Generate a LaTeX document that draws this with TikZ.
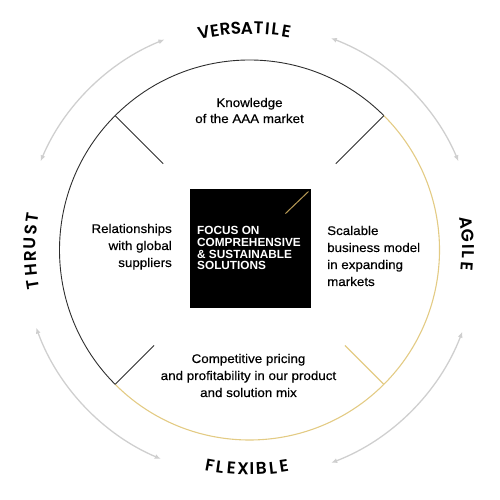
\documentclass[tikz,border=0pt]{standalone}
\usepackage{fontspec}
\setmainfont{Liberation Sans}[FakeStretch=1.07,FakeBold=0.4]
\newfontfamily\boxfont{Liberation Sans}
\newfontfamily\labfont{Poppins SemiBold}
\usetikzlibrary{arrows.meta,calc}
\definecolor{ringdark}{HTML}{2E2E2E}
\definecolor{ringgold}{HTML}{E3CB84}
\definecolor{arrowgray}{HTML}{CFCFCF}
\definecolor{boxgold}{HTML}{B89A55}
\tikzset{
  darkline/.style={draw=ringdark,line width=0.9pt},
  goldline/.style={draw=ringgold,line width=1.1pt},
  grayarrow/.style={draw=arrowgray,line width=1.3pt,{Latex[length=6pt,width=5pt]}-{Latex[length=6pt,width=5pt]}},
  bodytext/.style={font=\fontsize{12.5}{17}\selectfont,inner sep=0pt,text=black},
  lab/.style={font=\labfont\fontsize{17}{18}\selectfont,inner sep=0pt,text=black},
}
\begin{document}
\begin{tikzpicture}[x=1pt,y=1pt]
\useasboundingbox (0,0) rectangle (499,500);
\coordinate (C) at (249.5,250);
% ring
\draw[darkline] ($(C)+(45:190)$) arc[start angle=45,end angle=225,radius=190];
\draw[goldline] ($(C)+(225:190)$) arc[start angle=225,end angle=405,radius=190];
% ticks
\coordinate (t1a) at ($(C)+(135:122)$); \coordinate (t1b) at ($(C)+(135:190)$);
\coordinate (t2a) at ($(C)+(45:122)$);  \coordinate (t2b) at ($(C)+(45:190)$);
\coordinate (t3a) at ($(C)+(225:135)$); \coordinate (t3b) at ($(C)+(225:190)$);
\coordinate (t4a) at ($(C)+(315:135)$); \coordinate (t4b) at ($(C)+(315:190)$);
\draw[darkline] (t1a) -- (t1b);
\draw[darkline] (t2a) -- (t2b);
\draw[darkline] (t3a) -- (t3b);
\draw[goldline] (t4a) -- (t4b);
% gray arrows
\draw[grayarrow] ($(C)+(112:227)$) arc[start angle=112,end angle=157,radius=227];
\draw[grayarrow] ($(C)+(69:227)$) arc[start angle=69,end angle=23,radius=227];
\draw[grayarrow] ($(C)+(-21:228)$) arc[start angle=-21,end angle=-69,radius=228];
\draw[grayarrow] ($(C)+(200:227)$) arc[start angle=200,end angle=247,radius=227];
% center box
\node[fill=black,minimum width=121pt,minimum height=119pt,inner sep=0pt,anchor=south west] (box) at (190,192) {};
\draw[draw=boxgold,line width=1pt] ($(box.north east)+(-3,-3)$) coordinate (g1) -- ($(box.north east)+(-26,-25)$) coordinate (g2);
\node[anchor=base west,align=left,inner sep=0pt,text=white,font=\boxfont\bfseries\fontsize{11.8}{11.7}\selectfont] (boxtext) at (197,230) {FOCUS ON\\COMPREHENSIVE\\\& SUSTAINABLE\\SOLUTIONS};
% body texts
\node[bodytext,anchor=base,align=center,font=\fontsize{12.5}{16}\selectfont] (know) at (249.5,377) {Knowledge\\of the AAA market};
\node[bodytext,anchor=base east,align=right] (rel) at (172,233) {Relationships\\with global\\suppliers};
\node[bodytext,anchor=base west,align=left] (scal) at (327,214) {Scalable\\business model\\in expanding\\markets};
\node[bodytext,anchor=base,align=center] (comp) at (248.5,103) {Competitive pricing\\and profitability in our product\\and solution mix};
% curved labels
\foreach \ch/\s [count=\i] in {V/-46,E/-35,R/-24.5,S/-13.5,A/-2.5,T/9,I/18,L/26,E/37}{
  \pgfmathsetmacro\a{90-\s/222*57.2958}
  \node[lab,rotate=\a-90] (vers\i) at ($(C)+(\a:222)$) {\ch};
}
\foreach \ch/\s [count=\i] in {F/-39.8,L/-29.8,E/-18.2,X/-6.5,I/2.5,B/11.8,L/23.5,E/34.5}{
  \pgfmathsetmacro\a{270+\s/219*57.2958}
  \node[lab,rotate=\a-270] (flex\i) at ($(C)+(\a:219)$) {\ch};
}
\foreach \ch/\s [count=\i] in {T/-35,H/-20,R/-6.7,U/6.7,S/20,T/32.7}{
  \pgfmathsetmacro\a{180-\s/219.5*57.2958}
  \node[lab,rotate=\a-90] (thr\i) at ($(C)+(\a:219.5)$) {\ch};
}
\foreach \ch/\s [count=\i] in {A/-27.5,G/-14,I/-3.5,L/5,E/16}{
  \pgfmathsetmacro\a{0-\s/218.5*57.2958}
  \node[lab,rotate=\a-90] (agi\i) at ($(C)+(\a:218.5)$) {\ch};
}
\end{tikzpicture}
\end{document}
